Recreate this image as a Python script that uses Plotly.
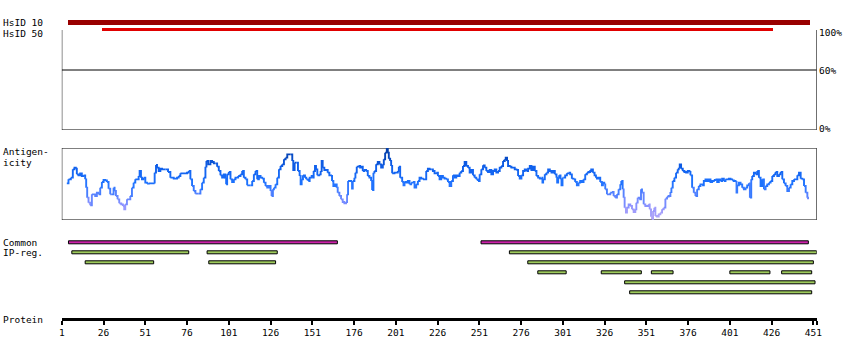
import plotly.graph_objects as go

# ---------------- data ----------------
protein_length = 453
tick_positions = [1, 26, 51, 76, 101, 126, 151, 176, 201, 226, 251, 276, 301, 326, 351, 376, 401, 426, 451]

hsid_labels = ["HsID 10", "HsID 50"]
hsid_start = [5, 25]
hsid_end = [449, 427]
hsid_colors = ["#990000", "#e00000"]

common_start = [5, 252]
common_end = [166, 448]

ip_row = [1, 1, 1, 2, 2, 2, 3, 3, 3, 3, 3, 4, 5]
ip_start = [7, 88, 269, 15, 89, 280, 286, 324, 354, 401, 432, 338, 341]
ip_end = [77, 130, 453, 56, 129, 451, 303, 348, 367, 425, 450, 452, 450]

antigen_pos = [
    4, 5, 6.4, 7.6, 8.6, 9.4, 10, 11, 12, 13, 14, 15, 15.6, 16.2, 17, 18, 19, 20, 21, 22, 23, 24, 25, 26, 27, 28, 29, 30,
    31, 32, 32.6, 33.4, 34.4, 35.4, 36.6, 37.6, 38.4, 39, 40, 41, 42, 43, 44, 45, 46, 47, 47.6, 48.4, 49, 50, 51, 52, 53,
    55, 56, 56.6, 57.4, 58, 59, 60, 61, 63, 64.6, 66, 68, 70, 71, 72, 74, 76, 77, 78, 79, 80, 81, 83, 84, 85, 86, 87, 87.6,
    88.6, 90, 91, 92, 93, 94, 95, 96, 97, 98, 99, 99.4, 100, 101, 102, 103, 104, 105, 106.6, 108, 109, 110, 111, 112, 114,
    115, 116, 117, 118, 119, 120, 121, 122, 123, 124, 125, 126, 126.6, 127.4, 128, 129, 130, 131, 132, 133, 134, 135, 136,
    137, 138, 139, 139.6, 140.4, 141.6, 142.4, 143.4, 144, 144.6, 145.4, 146.6, 147.4, 148.6, 149.4, 150.6,
    151.2, 151.8, 152.6, 153.2, 154, 155.2, 156, 156.6, 157.2, 158.2, 159.2, 160.2, 161.2, 162.2, 162.8, 163.6, 164.6,
    165.6, 166.2, 167.2, 168.2, 169.2, 170.2, 171.2, 171.8, 172.4, 173.2, 174.2, 174.8, 175.2, 176.2, 176.8, 177.6, 178.6,
    179.6, 180.6, 181.2, 182.2, 183.2, 184.2, 185.2, 186.2, 186.8, 187.6, 188.2, 189.2, 190.2, 191.2, 192.2, 193.2, 193.8,
    194.6, 195.6, 196.2, 196.8, 197.6, 198.2, 198.8, 200.2, 201.2, 202.2, 202.8, 203.6, 204.8, 205.6, 206.2, 207.2, 208.2,
    209.2, 210.2, 211.2, 212.2, 213.2, 214.2, 215.2, 216.2, 217.2, 219.2, 220.2, 221.2, 222.2, 223.2, 224.2, 225.2, 226.2,
    227.2, 228.2, 229.2, 230.2, 231.2, 232.2, 233.2, 234.2, 235.2, 236.2, 237.2, 238.2, 239.2, 240.2, 241.2, 242.2, 243.2,
    244.2, 245.2, 246.2, 247.2, 248.2, 249.2, 250.2, 251.2, 252.2, 253.2, 254.2, 255.2, 256.2, 257.2, 258.2, 259.2, 260.2,
    261.2, 262.2, 263.2, 264.2, 265.2, 266.2, 266.8, 267.6, 268.2, 269.2, 270.2, 271.2, 272.2, 273.2, 274.2, 275.2, 276.2,
    277.2, 278.2, 279.2, 280.2, 281.2, 282.2, 283.2, 284.2, 285.2, 286.2, 287.2, 288.2, 288.8, 289.2, 290.2, 291.2, 292.2,
    293.2, 294.2, 295.2, 296.2, 297.2, 297.6, 298.2, 298.8, 299.6, 300.2, 300.8,
    301.4, 302.4, 303.4, 304.4, 305.4, 306.4, 307.4, 308.4, 309.4, 310.4, 311.4, 312.4, 313.4, 314.4, 315.4, 316.4, 317.4,
    318, 319, 320, 320.8, 321.4, 322.4, 323.4, 324.4, 325, 325.8, 326.4, 327.4, 328.4, 329.4, 330.4, 331.4, 332.4, 333.4,
    334.4, 335.4, 336, 336.8, 337.4, 338, 338.8, 339.4, 340.4, 341.4, 342.4, 343.4, 344.4, 345, 345.8, 346.8, 347.8, 348.4,
    349.4, 350.4, 351.4, 352.4, 353, 353.8, 354.4, 355, 355.8, 356.4, 357.4, 358.4, 359.4, 360.4, 361.4, 362.4, 363.4,
    364.4, 365.4, 366, 366.8, 367.8, 368.8, 369.8, 370.4, 371, 371.8, 372.8, 373.8, 374.8, 375.8, 376.8, 377.4, 378.4,
    379.4, 380.4, 381.4, 382.4, 383.4, 384.4, 385.4, 386.4, 387.4, 388.4, 389.4, 390.4, 391.4, 392.4, 393.4, 394.4, 395.4,
    396.4, 397.4, 398.4, 399.4, 400.4, 401.4, 402.4, 403.4, 404.4, 405, 405.4, 406.4, 407.4, 408.4, 409.4, 410.4, 411.4,
    412.4, 413, 413.8, 414.4, 415.4, 416.4, 417.4, 418.4, 419.4, 420.4, 421.4, 422.4, 423.4, 424.4, 425.4, 426.4, 427.4,
    428.4, 429.4, 430.4, 431.4, 432.4, 433.4, 434.4, 435.4, 436.4, 437.4, 438.4, 439.4, 440.4, 441.4, 442.4, 443.4, 444.4,
    445.4, 446.4, 447.4, 447.8,
]
antigen_score = [
    55, 61, 63.5, 76, 78.5, 77, 68.5, 67, 70, 66, 67, 61, 48.5, 33.5, 26, 22, 38.5, 38.5, 36, 41, 38.5, 48.5, 57, 60, 59.5,
    57, 47, 38.5, 38.5, 48.5, 43.5, 36, 31, 25, 23.5, 21, 16, 23.5, 31, 31, 36, 48.5, 56, 61, 61, 66, 73.5, 63.5, 61, 63.5,
    56, 54.5, 55, 55, 56, 71, 82.5, 78.5, 73.5, 77, 76, 76, 72, 63.5, 62, 63.5, 66, 70, 70, 71, 73.5, 61, 51, 43.5, 39.5,
    39.5, 46, 56, 63.5, 80, 88.5, 83.5, 88.5, 87, 85, 85, 80, 73.5, 67, 63.5, 68.5, 62, 53.5, 68.5, 72, 61, 57, 61, 63.5,
    66, 68.5, 73.5, 63.5, 61, 52, 52, 58.5, 68.5, 73.5, 61, 66, 63.5, 62, 56, 51, 48.5, 51, 43.5, 36, 46, 48.5, 53.5, 63.5,
    76, 81, 83.5, 91, 93.5, 98.5, 98.5, 98.5, 88.5, 75, 86, 86, 73.5, 66, 53.5, 61, 67, 63.5, 61, 58.5, 63.5, 66,
    63.5, 73.5, 81, 76, 67, 68.5, 73.5, 88.5, 78.5, 75, 75, 71, 67, 66, 58.5, 51, 53.5, 48.5, 41, 36, 31, 27, 25, 27, 38.5,
    58.5, 58.5, 57, 47, 58.5, 63.5, 71, 80, 81, 78.5, 80, 73.5, 75, 73.5, 66, 63.5, 58.5, 45, 71, 73.5, 83.5, 87, 83.5,
    78.5, 83.5, 91, 101, 107, 101, 92, 88.5, 81, 70, 71, 71, 73.5, 80, 63.5, 57, 52, 57, 56, 58.5, 53.5, 56, 57, 48.5,
    53.5, 58.5, 63.5, 62, 61, 73.5, 77, 76, 76, 73.5, 70, 71, 66, 61, 66, 63.5, 62, 61, 57, 51, 58.5, 67, 63.5, 67, 66, 71,
    73.5, 81, 87, 81, 78.5, 71, 75, 67, 63.5, 61, 58.5, 68.5, 76, 82, 78.5, 73.5, 72, 75, 68.5, 73.5, 76, 71, 73.5, 78.5,
    81, 88.5, 91, 93.5, 88.5, 81, 80, 78.5, 78.5, 76, 75, 66, 62, 67, 73.5, 76, 73.5, 77, 81, 75, 80, 73.5, 66, 63.5, 62,
    63.5, 56, 61, 68.5, 71, 76, 73.5, 71, 73.5, 68.5, 63.5, 56, 63.5, 67, 61, 52, 63.5,
    63.5, 67, 70, 71, 68.5, 62, 61, 57, 52, 56, 58.5, 57, 61, 68.5, 71, 72, 73.5, 76, 71, 67, 63.5, 62, 63.5, 57, 52, 56,
    53.5, 46, 38.5, 38.5, 41, 42, 36, 33.5, 38.5, 46, 53.5, 58.5, 46, 33.5, 18.5, 11, 18.5, 23.5, 21, 16, 12, 16, 26,
    33.5, 31, 46, 41, 23.5, 21, 21, 23.5, 16, 5, 1, 13.5, 18.5, 6, 5, 8.5, 11, 16, 18.5, 32, 35, 36, 42, 48.5, 58.5, 63.5,
    71, 76, 78.5, 83.5, 77, 73.5, 72, 71, 73.5, 72, 67, 48.5, 41, 36, 46, 51, 53.5, 52, 58.5, 61, 58.5, 61, 57, 58.5, 60,
    61, 57, 61, 58.5, 62, 58.5, 61, 61, 62, 61, 59.5, 58.5, 57, 41, 52, 56, 53.5, 48.5, 46, 48.5, 52, 55, 33.5, 61, 66, 71,
    68.5, 73.5, 63.5, 51, 61, 46, 51, 53.5, 56, 58.5, 66, 68.5, 72, 66, 68.5, 72, 61, 55, 51, 43.5, 48.5, 53.5, 58.5, 61,
    61, 67, 71, 62, 61, 51, 41, 33.5, 31,
]

# ---------------- figure ----------------
FONT = "DejaVu Sans Mono"
FSIZE = 9.5
W, H = 850, 360


def py(p):
    return 1 - p / H


fig = go.Figure()

# HsID bars
for i in range(len(hsid_labels)):
    fig.add_trace(go.Bar(
        orientation="h", base=[hsid_start[i]], x=[hsid_end[i] - hsid_start[i]], y=[[11.5, 4.5][i]],
        width=[4.5, 3][i], marker=dict(color=hsid_colors[i], line=dict(width=0)),
        xaxis="x", yaxis="y4", showlegend=False, hoverinfo="skip"))


# antigenicity line, coloured by value
def lerp_color(s):
    stops = [(0, (185, 170, 245)), (20, (145, 148, 255)), (38, (85, 130, 255)),
             (55, (30, 115, 255)), (80, (15, 95, 235)), (108, (0, 55, 155))]
    s = max(0, min(108, s))
    for (a, ca), (b, cb) in zip(stops[:-1], stops[1:]):
        if a <= s <= b:
            t = (s - a) / (b - a)
            c = [round(ca[k] + (cb[k] - ca[k]) * t) for k in range(3)]
            return "rgb(%d,%d,%d)" % tuple(c)
    return "rgb(0,55,155)"


segments = []
cur_bin, cur_pts = None, []
for i in range(len(antigen_pos) - 1):
    avg = (antigen_score[i] + antigen_score[i + 1]) / 2
    b = int(avg // 5)
    if b != cur_bin:
        if cur_pts:
            segments.append((cur_bin, cur_pts))
        cur_bin = b
        cur_pts = [i]
    cur_pts.append(i + 1)
segments.append((cur_bin, cur_pts))

for b, idx in segments:
    fig.add_trace(go.Scatter(
        x=[antigen_pos[k] for k in idx], y=[antigen_score[k] for k in idx],
        mode="lines", line=dict(color=lerp_color(b * 5 + 2.5), width=1.9, shape="hv"),
        xaxis="x", yaxis="y", showlegend=False, hoverinfo="skip"))

# Common + IP regions
fig.add_trace(go.Bar(
    orientation="h", base=common_start, x=[e - s for s, e in zip(common_start, common_end)],
    y=[0] * len(common_start), width=0.3,
    marker=dict(color="#cc22aa", line=dict(color="black", width=1)),
    xaxis="x", yaxis="y3", showlegend=False, hoverinfo="skip"))
fig.add_trace(go.Bar(
    orientation="h", base=ip_start, x=[e - s for s, e in zip(ip_start, ip_end)],
    y=ip_row, width=0.3,
    marker=dict(color="#9ecb5c", line=dict(color="black", width=1)),
    xaxis="x", yaxis="y3", showlegend=False, hoverinfo="skip"))

shapes = [
    dict(type="rect", xref="x", yref="y2", x0=1, x1=protein_length, y0=0, y1=102,
         line=dict(color="black", width=1), layer="below"),
    dict(type="line", xref="x", yref="y2", x0=1, x1=protein_length, y0=60, y1=60,
         line=dict(color="black", width=1), layer="below"),
    dict(type="rect", xref="x", yref="y", x0=1, x1=protein_length, y0=0, y1=108,
         line=dict(color="black", width=1), layer="below"),
]

annotations = []
def label(text, x, y, xanchor="left"):
    annotations.append(dict(text=text, xref="paper", yref="paper", x=x / W, y=py(y),
                            xanchor=xanchor, yanchor="middle", showarrow=False,
                            borderpad=0, font=dict(family=FONT, size=FSIZE, color="black")))

label("HsID 10", 2, 22)
label("HsID 50", 2, 33)
label("100%", 818, 32)
label("60%", 818, 71)
label("0%", 818, 128)
label("Antigen-", 2, 151.5)
label("icity", 2, 162.5)
label("Common", 2, 242)
label("IP-reg.", 2, 253)
label("Protein", 2, 319)

x0 = 61.8 / W
x1 = 816.7 / W
fig.update_layout(
    width=W, height=H, autosize=False,
    margin=dict(l=0, r=0, t=0, b=0, pad=0, autoexpand=False),
    paper_bgcolor="white", plot_bgcolor="rgba(0,0,0,0)",
    barmode="overlay", bargap=0,
    showlegend=False,
    xaxis=dict(domain=[x0, x1], range=[1, protein_length], anchor="free", position=py(319),
               automargin=False,
               showline=True, linewidth=3, linecolor="black",
               ticks="outside", ticklen=4, tickwidth=2, tickcolor="black",
               tickvals=tick_positions + [protein_length],
               ticktext=[str(t) for t in tick_positions] + [""],
               tickfont=dict(family=FONT, size=FSIZE, color="black"),
               showgrid=False, zeroline=False, fixedrange=True),
    yaxis=dict(domain=[py(220), py(148)], range=[0, 108], visible=False, anchor="x",
               automargin=False, fixedrange=True),
    yaxis2=dict(domain=[py(130), py(30)], range=[0, 100], visible=False, anchor="x",
                automargin=False, fixedrange=True),
    yaxis3=dict(domain=[py(297.3), py(237.3)], range=[5.5, -0.5], visible=False, anchor="x",
                automargin=False, fixedrange=True),
    yaxis4=dict(domain=[py(34), py(16)], range=[0, 18], visible=False, anchor="x",
                automargin=False, fixedrange=True),
    shapes=shapes,
    annotations=annotations,
    hovermode=False,
)

fig.write_html("out.html", config={"displayModeBar": False, "staticPlot": True})
